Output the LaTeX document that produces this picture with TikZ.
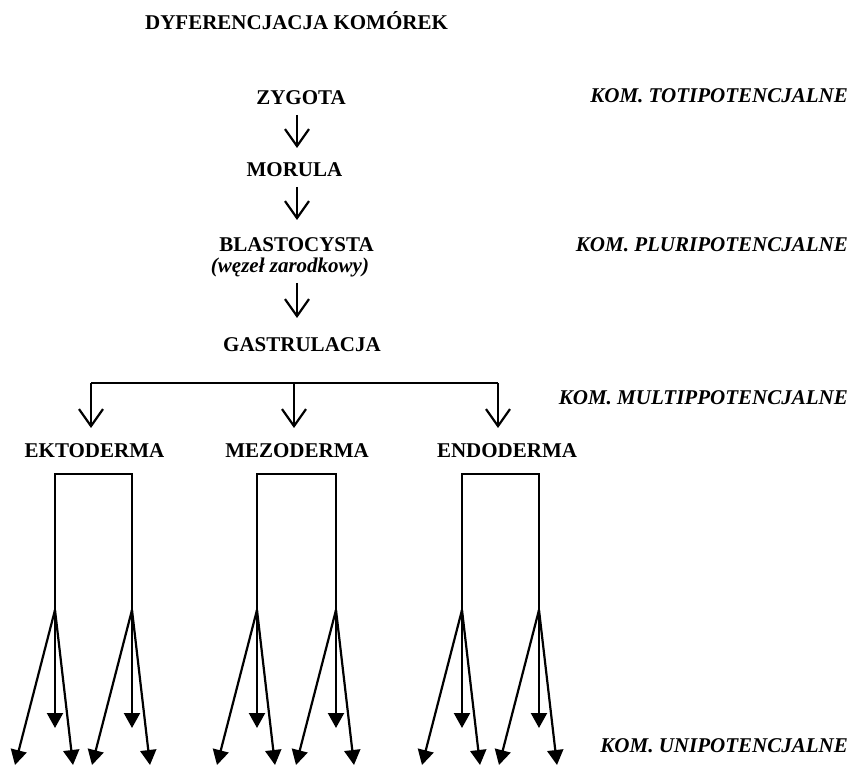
\documentclass[tikz,border=0pt]{standalone}
\usepackage{fontspec}
\setmainfont{Liberation Serif}
\usetikzlibrary{arrows.meta}
\begin{document}
\begin{tikzpicture}[x=1pt,y=-1pt,
  lbl/.style={font=\fontsize{21}{25}\selectfont\bfseries, inner sep=0pt, anchor=base},
  side/.style={font=\fontsize{21}{25}\selectfont\bfseries\itshape, inner sep=0pt, anchor=base east},
  ln/.style={line width=2.2pt},
  openarr/.style={ln, -{Straight Barb[length=17pt,width=24pt]}},
  fillarr/.style={ln, -{Triangle[length=15pt,width=16pt]}}]
\useasboundingbox (0,0) rectangle (852,767);

% main chain
\node[lbl] (title) at (296.5,30) {DYFERENCJACJA KOMÓREK};
\node[lbl] (zyg) at (301,105) {ZYGOTA};
\node[lbl] (mor) at (294.5,177) {MORULA};
\node[lbl] (bla) at (296.5,252) {BLASTOCYSTA};
\node[lbl, font=\fontsize{21}{25}\selectfont\bfseries\itshape] (wez) at (290,273) {(węzeł zarodkowy)};
\node[lbl] (gas) at (302,352) {GASTRULACJA};
\node[lbl] (ekt) at (94.5,457) {EKTODERMA};
\node[lbl] (mez) at (297,457) {MEZODERMA};
\node[lbl] (end) at (507,457) {ENDODERMA};

% side labels
\node[side] (toti) at (848,103) {KOM. TOTIPOTENCJALNE};
\node[side] (pluri) at (848,252) {KOM. PLURIPOTENCJALNE};
\node[side] (multi) at (848,405) {KOM. MULTIPPOTENCJALNE};
\node[side] (uni) at (848,752) {KOM. UNIPOTENCJALNE};

% chain arrows
\coordinate (a1s) at (297,115); \coordinate (a1e) at (297,148);
\coordinate (a2s) at (297,187); \coordinate (a2e) at (297,220);
\coordinate (a3s) at (297,283); \coordinate (a3e) at (297,318);
\draw[openarr] (a1s) -- (a1e);
\draw[openarr] (a2s) -- (a2e);
\draw[openarr] (a3s) -- (a3e);

% split into germ layers
\coordinate (barL) at (91,383);
\coordinate (barM) at (294,383);
\coordinate (barR) at (498,383);
\coordinate (tipL) at (91,428);
\coordinate (tipM) at (294,428);
\coordinate (tipR) at (498,428);
\draw[ln] (barL) -- (barR);
\draw[openarr] (barL) -- (tipL);
\draw[openarr] (barM) -- (tipM);
\draw[openarr] (barR) -- (tipR);

% brackets and fans
\foreach \n/\l/\r in {1/55/132, 2/257/336, 3/462/539}{
  \coordinate (g\n l) at (\l,610);
  \coordinate (g\n r) at (\r,610);
  \coordinate (g\n t) at ({(\l+\r)/2},474);
  \draw[ln] (g\n l) |- (g\n t) -| (g\n r);
  \foreach \s/\b in {l/\l, r/\r}{
    \coordinate (t\n\s a) at ({\b-40},765);
    \coordinate (t\n\s b) at (\b,728);
    \coordinate (t\n\s c) at ({\b+18},765);
    \draw[fillarr] (g\n\s) -- (t\n\s a);
    \draw[fillarr] (g\n\s) -- (t\n\s b);
    \draw[fillarr] (g\n\s) -- (t\n\s c);
  }
}
\end{tikzpicture}
\end{document}
